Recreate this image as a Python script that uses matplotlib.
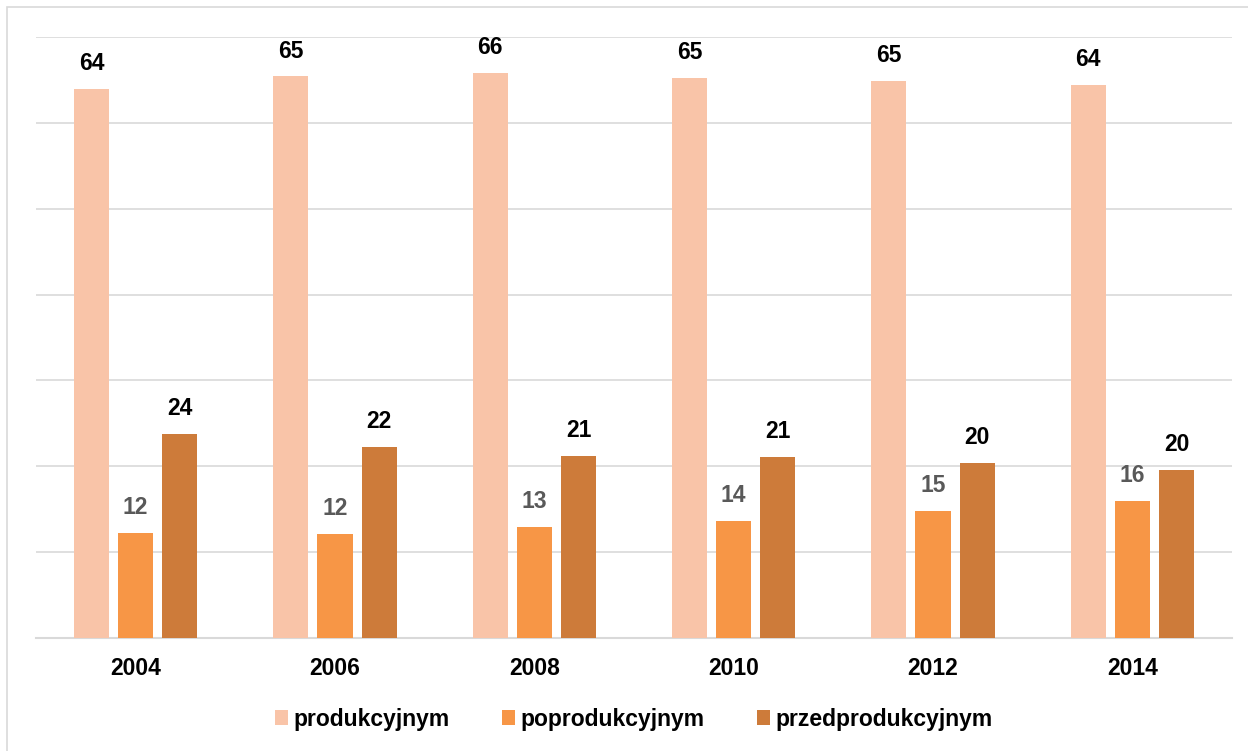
import numpy as np
import matplotlib.pyplot as plt
from matplotlib.patches import Rectangle

plt.rcParams['font.family'] = ['Liberation Sans', 'DejaVu Sans']

# data
years = ['2004', '2006', '2008', '2010', '2012', '2014']
produkcyjnym = [64.0, 65.4, 65.8, 65.2, 64.9, 64.4]
poprodukcyjnym = [12.2, 12.1, 12.9, 13.6, 14.8, 16.0]
przedprodukcyjnym = [23.8, 22.3, 21.2, 21.1, 20.4, 19.6]
series_names = ['produkcyjnym', 'poprodukcyjnym', 'przedprodukcyjnym']

colors = ['#F9C4A8', '#F79646', '#CD7B3A']
label_colors = ['black', '#595959', 'black']

fig = plt.figure(figsize=(12.48, 7.51), dpi=100)

# outer chart frame
fig.patches.append(Rectangle((7 / 1248, -0.05), 1.1, 1 - 7 / 751 + 0.05,
                             transform=fig.transFigure, fill=False,
                             edgecolor='#d9d9d9', linewidth=1.2))

ax = fig.add_axes([36 / 1248, 1 - 638 / 751, 1196 / 1248, 601 / 751])

x = np.arange(len(years))
offset = 0.222
width = 0.176
for i, (vals, name) in enumerate(zip([produkcyjnym, poprodukcyjnym, przedprodukcyjnym], series_names)):
    bars = ax.bar(x + (i - 1) * offset, vals, width, color=colors[i], label=name, zorder=3)
    ax.bar_label(bars, fmt='%.0f', padding=10, fontsize=16.5, fontweight='bold',
                 color=label_colors[i])

ax.set_xlim(-0.5, 5.5)
ax.set_ylim(0, 70)
ax.set_yticks(np.arange(0, 71, 10))
ax.yaxis.grid(True, color='#d9d9d9', linewidth=1.2, zorder=0)
ax.tick_params(axis='y', left=False, labelleft=False)
ax.tick_params(axis='x', length=0, pad=14)
ax.set_xticks(x)
ax.set_xticklabels(years, fontsize=16.5, fontweight='bold')
for s in ['top', 'right', 'left']:
    ax.spines[s].set_visible(False)
ax.spines['bottom'].set_color('#d9d9d9')
ax.spines['bottom'].set_linewidth(1.5)

leg = ax.legend(loc='center', bbox_to_anchor=(0.5, -0.135), ncol=3, frameon=False,
                prop={'size': 16.5, 'weight': 'bold'}, handlelength=0.55, handleheight=0.6,
                handletextpad=0.25, columnspacing=2.3)

fig.savefig('out.png', dpi=100)
